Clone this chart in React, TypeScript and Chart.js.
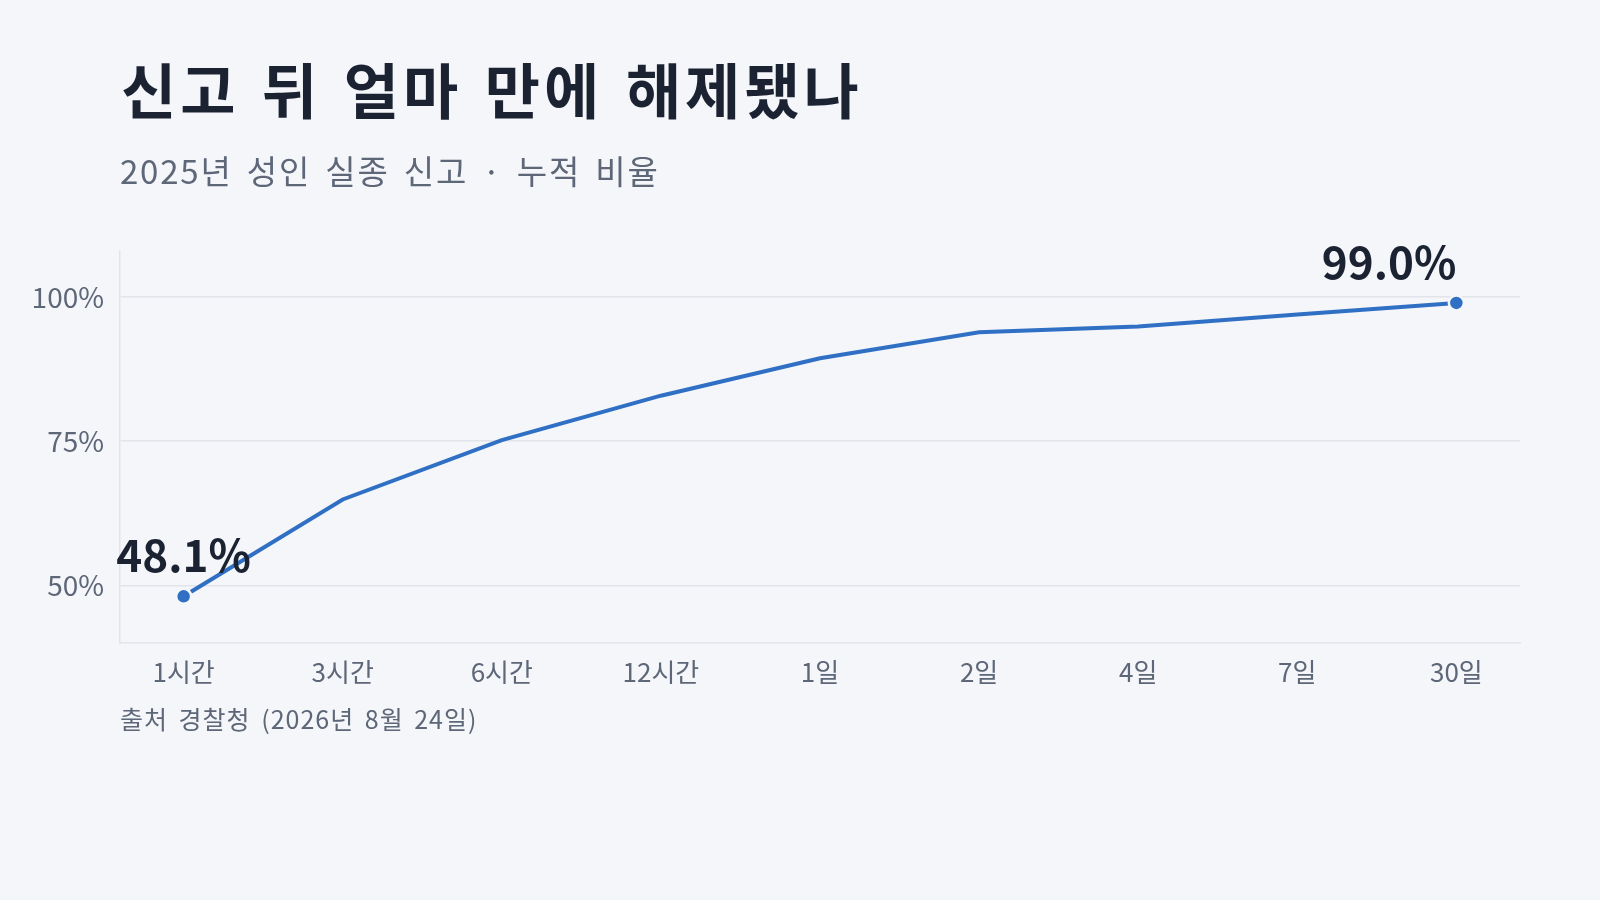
import React, { useEffect, useRef } from 'react';
import { Chart, registerables } from 'chart.js';

Chart.register(...registerables);

const FONT = '"Noto Sans CJK KR", "Noto Sans", sans-serif';
const BG = '#f4f6f9';
const INK = '#1b2232';
const MUTED = '#5d6778';
const LINE = '#2f6fc4';
const GRID = '#e1e4ea';

// 데이터
const periods = ['1시간', '3시간', '6시간', '12시간', '1일', '2일', '4일', '7일', '30일'];
const cumulative = [48.1, 64.9, 75.2, 82.9, 89.4, 93.9, 94.9, 97.0, 99.0];
const yTicks = [50, 75, 100];
const labeledPoints = [0, 8];

// 첫/마지막 점 위 값 표시
const endLabels = {
  id: 'endLabels',
  afterDatasetsDraw(chart: any) {
    const { ctx } = chart;
    const meta = chart.getDatasetMeta(0);
    ctx.save();
    ctx.font = `bold 44px ${FONT}`;
    ctx.fillStyle = INK;
    ctx.textBaseline = 'alphabetic';
    labeledPoints.forEach((i) => {
      const pt = meta.data[i];
      ctx.textAlign = i === cumulative.length - 1 ? 'right' : 'center';
      ctx.fillText(`${cumulative[i].toFixed(1)}%`, pt.x, pt.y - 24);
    });
    ctx.restore();
  },
};

export default function App() {
  const canvasRef = useRef<HTMLCanvasElement>(null);

  useEffect(() => {
    document.body.style.margin = '0';
    document.body.style.background = BG;
    const ctx = canvasRef.current?.getContext('2d');
    if (!ctx) return;

    const chart = new Chart(ctx, {
      type: 'line',
      data: {
        datasets: [{
          data: cumulative.map((v, i) => ({ x: i, y: v })),
          borderColor: LINE,
          borderWidth: 4,
          tension: 0,
          pointRadius: cumulative.map((_, i) => (labeledPoints.includes(i) ? 7.5 : 0)),
          pointBackgroundColor: LINE,
          pointBorderColor: BG,
          pointBorderWidth: 2.5,
          clip: false,
        }],
      },
      options: {
        animation: false,
        responsive: true,
        maintainAspectRatio: false,
        layout: { padding: { left: 0, top: 251, right: 80, bottom: 207 } },
        plugins: { legend: { display: false }, tooltip: { enabled: false } },
        scales: {
          x: {
            type: 'linear',
            min: -0.4,
            max: 8.4,
            afterBuildTicks: (s: any) => { s.ticks = periods.map((_, i) => ({ value: i })); },
            afterFit: (s: any) => { s.height = 50; },
            grid: { display: false },
            border: { display: true, color: GRID, width: 1.5 },
            ticks: {
              autoSkip: false,
              maxRotation: 0,
              padding: 6,
              color: MUTED,
              font: { family: FONT, size: 26 },
              callback: (v: any) => periods[v] ?? '',
            },
          },
          y: {
            min: 40,
            max: 108,
            afterBuildTicks: (s: any) => { s.ticks = yTicks.map((v) => ({ value: v })); },
            afterFit: (s: any) => { s.width = 120; },
            grid: { color: GRID, lineWidth: 1.5, drawTicks: false },
            border: { display: true, color: GRID, width: 1.5 },
            ticks: {
              padding: 16,
              color: MUTED,
              font: { family: FONT, size: 28 },
              callback: (v: any) => `${v}%`,
            },
          },
        },
      },
      plugins: [endLabels],
    });

    return () => chart.destroy();
  }, []);

  return (
    <div style={{ position: 'fixed', left: 0, top: 0, width: 1600, height: 900, background: BG, fontFamily: FONT }}>
      <div style={{ position: 'absolute', inset: 0 }}>
        <canvas ref={canvasRef} />
      </div>
      <div style={{ position: 'absolute', left: 121, top: 58, fontSize: 60, lineHeight: 1, fontWeight: 700, color: INK, whiteSpace: 'nowrap', letterSpacing: 4, wordSpacing: 5 }}>
        신고 뒤 얼마 만에 해제됐나
      </div>
      <div style={{ position: 'absolute', left: 120, top: 154, fontSize: 33, lineHeight: 1, color: MUTED, whiteSpace: 'nowrap', letterSpacing: 1.8, wordSpacing: 5 }}>
        2025년 성인 실종 신고 · 누적 비율
      </div>
      <div style={{ position: 'absolute', left: 120, top: 706, fontSize: 25, lineHeight: 1, color: MUTED, whiteSpace: 'nowrap', letterSpacing: 1, wordSpacing: 4 }}>
        출처 경찰청 (2026년 8월 24일)
      </div>
    </div>
  );
}
